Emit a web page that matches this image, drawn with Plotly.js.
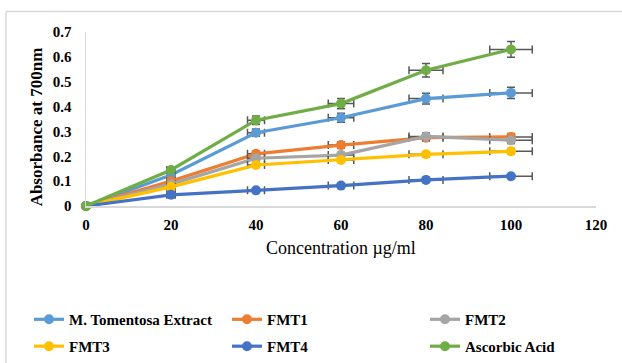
<!DOCTYPE html>
<html>
<head>
<meta charset="utf-8">
<script src="https://cdn.plot.ly/plotly-3.0.1.min.js"></script>
<style>
html,body{margin:0;padding:0;background:#fff;}
#chart{width:622px;height:363px;}
</style>
</head>
<body>
<div id="chart"></div>
<script>
const concentration = [0, 20, 40, 60, 80, 100];
const seriesNames = ["M. Tomentosa Extract", "FMT1", "FMT2", "FMT3", "FMT4", "Ascorbic Acid"];
const mTomentosa = [0, 0.125, 0.295, 0.355, 0.432, 0.455];
const fmt1 = [0, 0.100, 0.210, 0.245, 0.275, 0.278];
const fmt2 = [0, 0.088, 0.192, 0.205, 0.280, 0.265];
const fmt3 = [0, 0.077, 0.165, 0.185, 0.208, 0.220];
const fmt4 = [0, 0.045, 0.063, 0.082, 0.105, 0.120];
const ascorbic = [0, 0.145, 0.345, 0.412, 0.546, 0.630];
const colors = ["#5B9BD5", "#ED7D31", "#A5A5A5", "#FFC000", "#4472C4", "#70AD47"];
const allSeries = [mTomentosa, fmt1, fmt2, fmt3, fmt4, ascorbic];
const errPercent = 5;
const xTicks = [0, 20, 40, 60, 80, 100, 120];
const yTicks = [0, 0.1, 0.2, 0.3, 0.4, 0.5, 0.6, 0.7];
const yTickText = ["0", "0.1", "0.2", "0.3", "0.4", "0.5", "0.6", "0.7"];
const xTitle = "Concentration µg/ml";
const yTitle = "Absorbance at 700nm";

const serif = "Liberation Serif, Times New Roman, serif";

const traces = allSeries.map((ys, i) => ({
  x: concentration,
  y: ys,
  name: seriesNames[i],
  type: "scatter",
  mode: "lines+markers",
  cliponaxis: false,
  legend: i < 3 ? "legend" : "legend2",
  line: {color: colors[i], width: 3.2},
  marker: {color: colors[i], size: 10},
  error_x: {type: "percent", value: errPercent, color: "#595959", thickness: 1.5, width: 4},
  error_y: {type: "percent", value: errPercent, color: "#595959", thickness: 1.5, width: 4}
}));

const L = 86, R = 596, T = 31.7, B = 206.5;
const pw = R - L, ph = B - T;
const px = v => (v - L) / pw;
const py = v => (B - v) / ph;

const legendBase = {
  orientation: "h",
  x: px(29), xanchor: "left",
  yanchor: "top",
  entrywidth: 153,
  itemwidth: 30,
  font: {family: serif, size: 15, color: "#000", weight: "bold"},
  bgcolor: "rgba(0,0,0,0)"
};

const layout = {
  width: 622, height: 363,
  margin: {l: L, r: 622 - R, t: T, b: 363 - B, autoexpand: false},
  paper_bgcolor: "#fff",
  plot_bgcolor: "#fff",
  showlegend: true,
  xaxis: {
    range: [0, 120],
    tickvals: xTicks,
    ticktext: xTicks.map(String),
    showgrid: false,
    zeroline: false,
    showline: true,
    linecolor: "#D9D9D9",
    linewidth: 1.5,
    ticks: "",
    ticklabelstandoff: 4,
    tickfont: {family: serif, size: 15, color: "#000", weight: "bold"}
  },
  yaxis: {
    range: [0, 0.7],
    tickvals: yTicks,
    ticktext: yTickText,
    showgrid: false,
    zeroline: false,
    showline: true,
    linecolor: "#D9D9D9",
    linewidth: 1.5,
    ticks: "",
    ticklabelstandoff: 10,
    tickfont: {family: serif, size: 15, color: "#000", weight: "bold"}
  },
  annotations: [
    {text: xTitle, xref: "paper", yref: "paper", x: px(340.5), y: py(249), xanchor: "center", yanchor: "middle",
     showarrow: false, font: {family: serif, size: 18, color: "#000"}},
    {text: yTitle, xref: "paper", yref: "paper", x: px(36.5), y: py(127), xanchor: "center", yanchor: "middle",
     textangle: -90, showarrow: false, font: {family: serif, size: 17, color: "#000", weight: "bold"}}
  ],
  legend: Object.assign({}, legendBase, {y: py(304)}),
  legend2: Object.assign({}, legendBase, {y: py(331)}),
  shapes: [
    {type: "line", xref: "paper", yref: "paper", x0: px(6), x1: px(640), y0: py(11), y1: py(11), line: {color: "#D9D9D9", width: 1.5}},
    {type: "line", xref: "paper", yref: "paper", x0: px(6), x1: px(6), y0: py(11), y1: py(380), line: {color: "#D9D9D9", width: 1.5}}
  ]
};

Plotly.newPlot("chart", traces, layout, {displayModeBar: false, staticPlot: true});
</script>
</body>
</html>
